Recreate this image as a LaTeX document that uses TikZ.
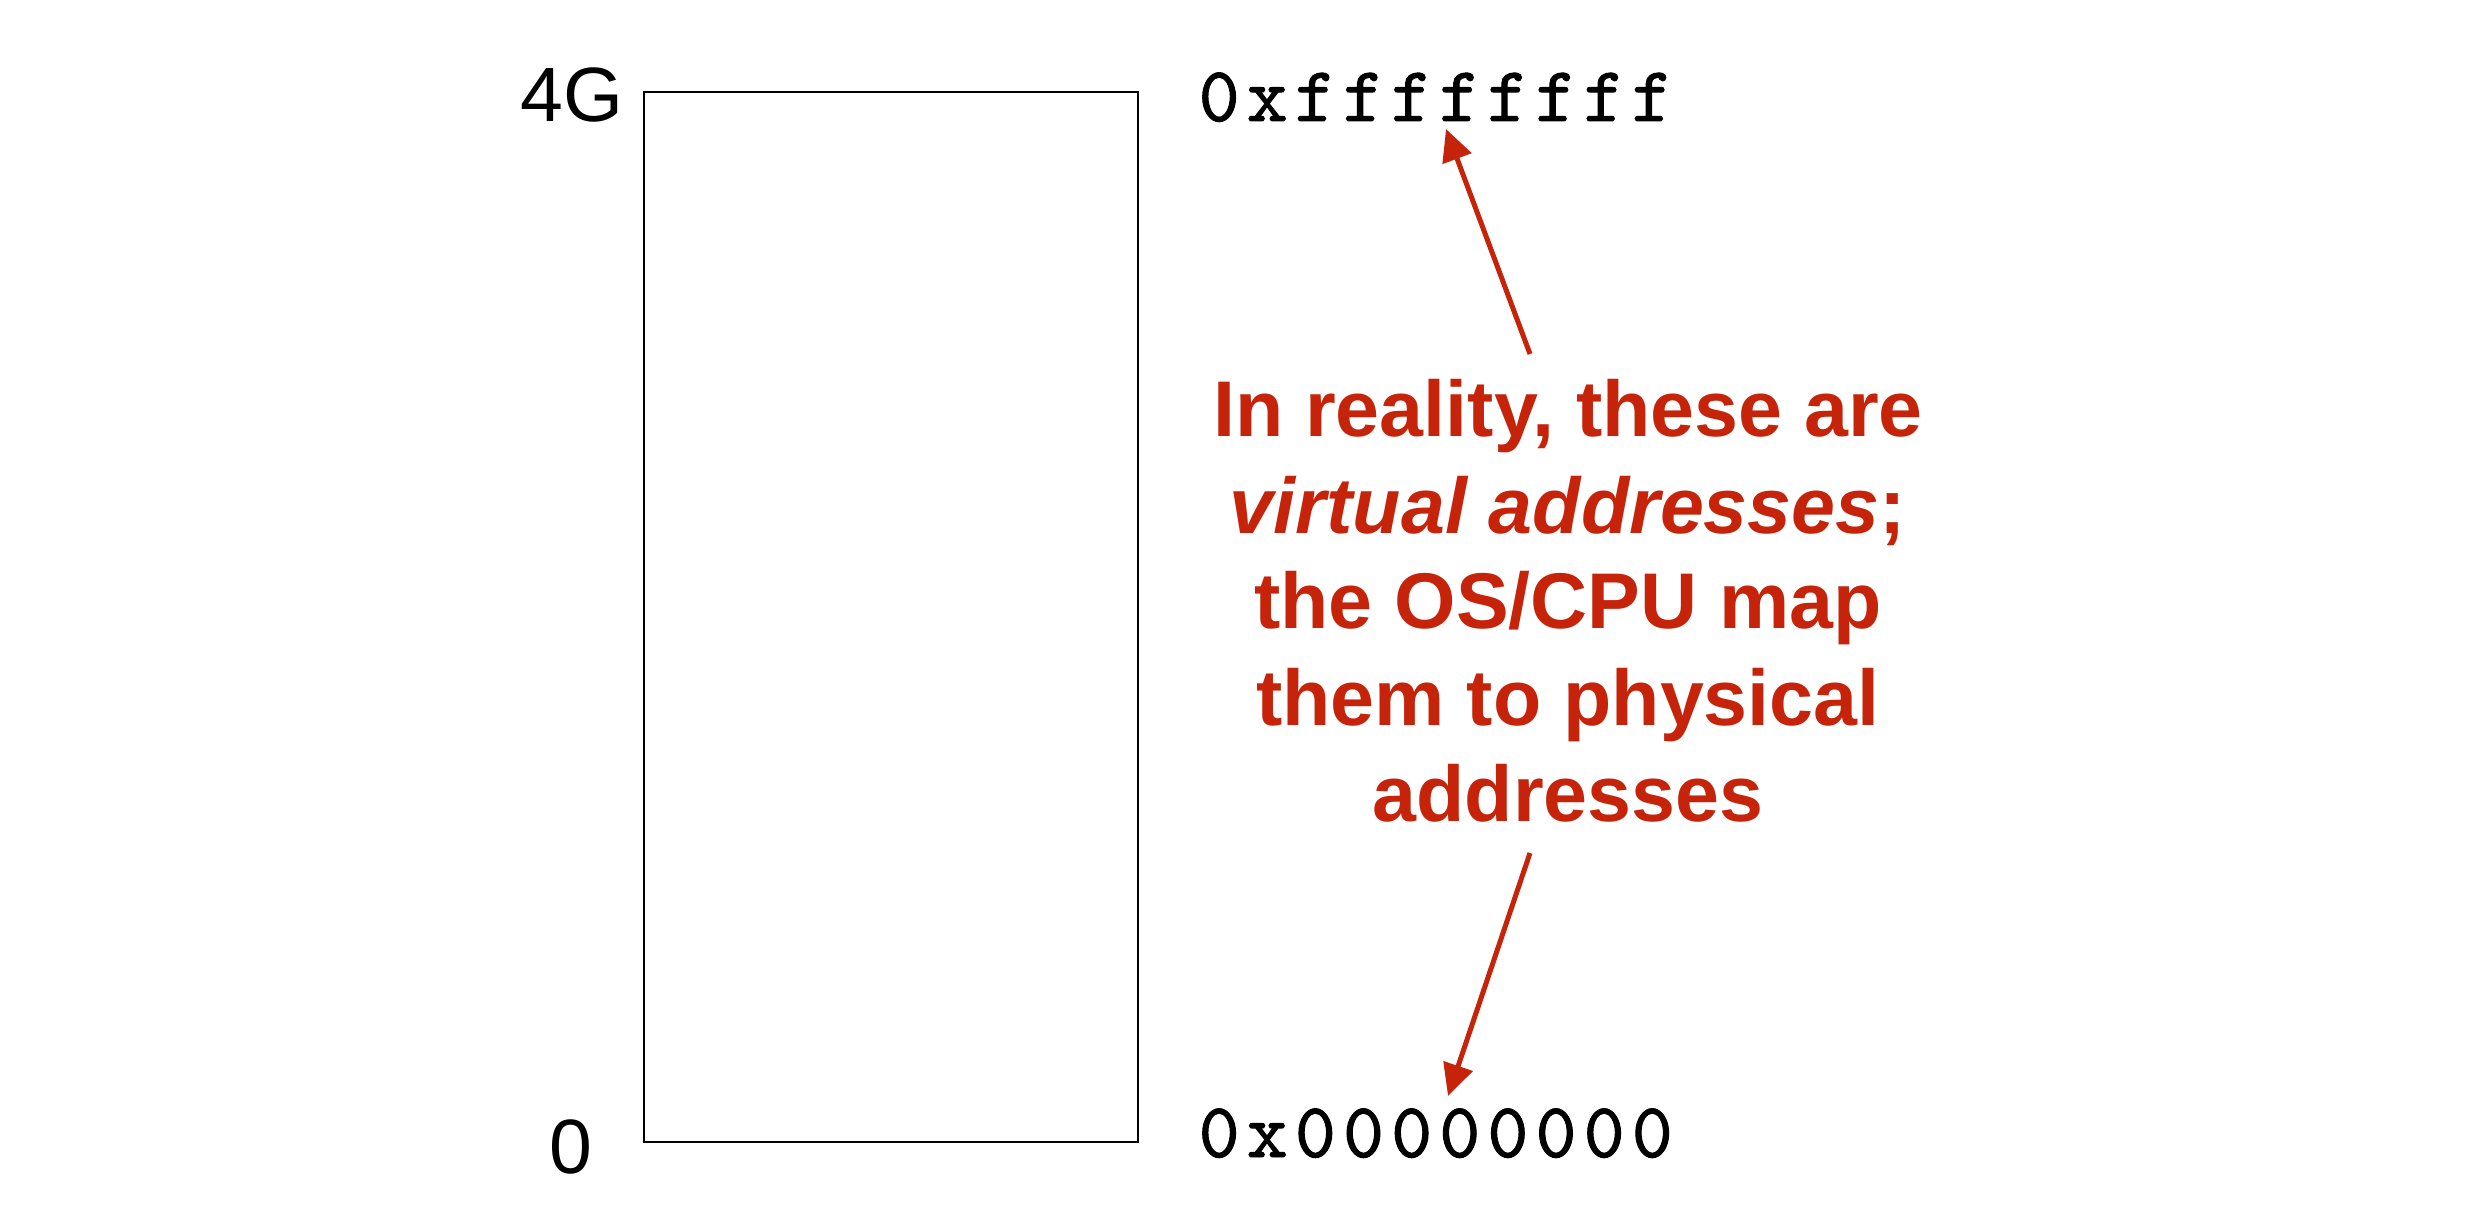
\documentclass[tikz,border=0pt]{standalone}
\usepackage{fontspec}
\setmainfont{Liberation Sans}
\newfontfamily\addrfont{lmmono10-regular.otf}[LetterSpace=9.2,FakeBold=1.2]
\usetikzlibrary{arrows.meta}
\definecolor{notered}{RGB}{197,36,10}
\begin{document}
\begin{tikzpicture}[x=0.3pt,y=-0.3pt,
  axislabel/.style={inner sep=0pt,anchor=base,font=\fontsize{23.1}{27}\selectfont},
  addr/.style={inner sep=0pt,anchor=base west,font=\fontsize{23.4}{27}\selectfont\addrfont},
  noteline/.style={inner sep=0pt,anchor=base,text=notered,font=\fontsize{23.7}{28.8}\selectfont\bfseries},
  notearrow/.style={draw=notered,line width=1.5pt,-{Triangle[length=9.5pt,width=9pt]}},
  memory/.style={draw=black,line width=0.8pt}]
\useasboundingbox (0,0) rectangle (2486,1232);
% memory box
\draw[memory] (644,92) rectangle (1138,1142);
\node[axislabel] (top) at (572,122) {4G};
\node[axislabel] (bottom) at (571,1173) {0};
% addresses
\node[addr] (high) at (1198,121) {0xffffffff};
\node[addr] (low) at (1198,1157) {0x00000000};
% note
\node[noteline] (l1) at (1568,437) {In reality, these are};
\node[noteline] (l2) at (1568,534) {\itshape virtual addresses\upshape;};
\node[noteline] (l3) at (1568,629) {the OS/CPU map};
\node[noteline] (l4) at (1568,726) {them to physical};
\node[noteline] (l5) at (1568,821) {addresses};
\coordinate (upstart) at (1530,354);
\coordinate (uptip) at (1446,129);
\coordinate (downstart) at (1530,853);
\coordinate (downtip) at (1448,1096);
\draw[notearrow] (upstart) -- (uptip);
\draw[notearrow] (downstart) -- (downtip);
\end{tikzpicture}
\end{document}
